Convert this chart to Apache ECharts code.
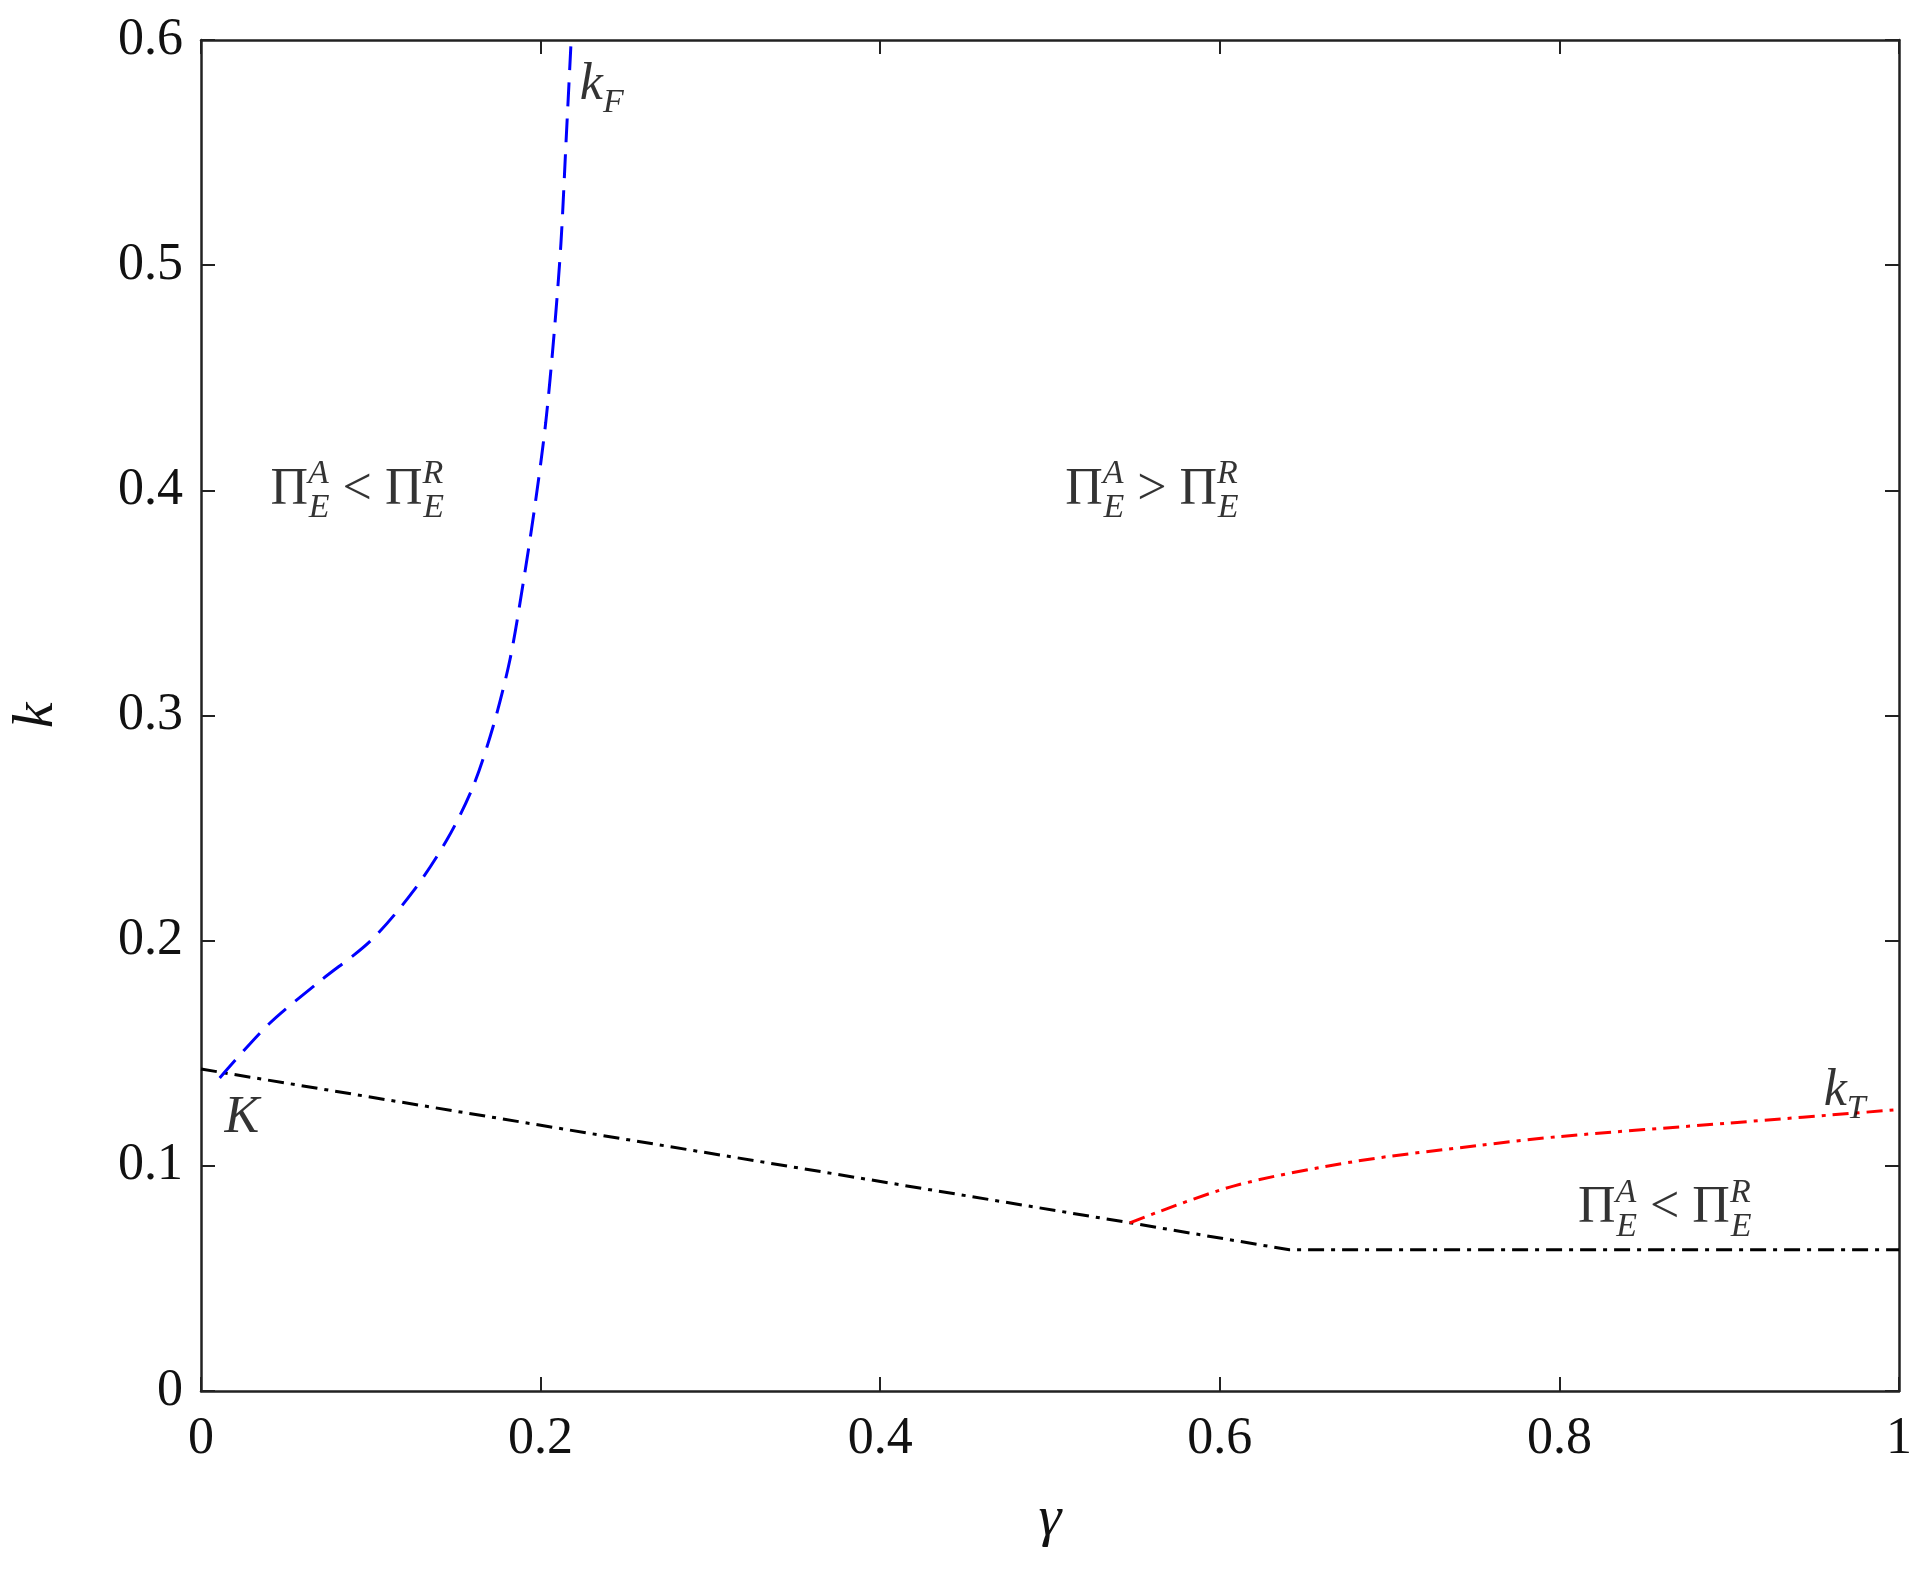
<!DOCTYPE html>
<html>
<head>
<meta charset="utf-8">
<script src="https://cdn.jsdelivr.net/npm/echarts@6/dist/echarts.min.js"></script>
<style>
  html, body { margin: 0; padding: 0; background: #fff; }
  #chart { width: 1927px; height: 1588px; }
</style>
</head>
<body>
<div id="chart"></div>
<script>
// kF boundary (blue dashed)
const kF = [
  [0.011, 0.139], [0.04, 0.163], [0.07, 0.182], [0.1, 0.2], [0.125, 0.222],
  [0.145, 0.245], [0.16, 0.268], [0.172, 0.295], [0.182, 0.325], [0.19, 0.36],
  [0.197, 0.395], [0.203, 0.43], [0.208, 0.47], [0.212, 0.51], [0.215, 0.555],
  [0.218, 0.6]
];
// lower black boundary
const kLow = [[0, 0.143], [0.547, 0.0747], [0.641, 0.0627], [1, 0.0627]];
// kT boundary (red)
const kT = [
  [0.547, 0.0747], [0.608, 0.091], [0.680, 0.102], [0.752, 0.109], [0.8, 0.113],
  [0.9, 0.119], [1, 0.125]
];
const xTicks = [0, 0.2, 0.4, 0.6, 0.8, 1];
const yTicks = [0, 0.1, 0.2, 0.3, 0.4, 0.5, 0.6];

const FONT = '"Liberation Serif", "Times New Roman", serif';
const lessR = '{m|Π}{sup|A}{sub|E}{m| < Π}{sup|R}{sub|E}';
const moreR = '{m|Π}{sup|A}{sub|E}{m| > Π}{sup|R}{sub|E}';
const notes = [
  { value: [0.092, 0.4], text: lessR },
  { value: [0.56, 0.4], text: moreR },
  { value: [0.862, 0.081], text: lessR },
  { value: [0.236, 0.58], text: '{i|k}{isub|F}' },
  { value: [0.968, 0.133], text: '{i|k}{isub|T}' },
  { value: [0.024, 0.121], text: '{i|K}' }
];

const rich = {
  m: { fontFamily: FONT, fontSize: 52, color: '#000', lineHeight: 70, verticalAlign: 'middle' },
  sup: { fontFamily: FONT, fontStyle: 'italic', fontSize: 34, color: '#000', lineHeight: 70, verticalAlign: 'top', padding: [2, 0, 0, 0] },
  sub: { fontFamily: FONT, fontStyle: 'italic', fontSize: 34, color: '#000', lineHeight: 70, verticalAlign: 'bottom', padding: [0, 0, 0, -20] },
  i: { fontFamily: FONT, fontStyle: 'italic', fontSize: 52, color: '#000', lineHeight: 70, verticalAlign: 'middle' },
  isub: { fontFamily: FONT, fontStyle: 'italic', fontSize: 34, color: '#000', lineHeight: 70, verticalAlign: 'bottom' }
};

const axisLine = { show: true, onZero: false, lineStyle: { color: '#222', width: 2.5 } };
const tick = { show: true, inside: true, length: 14, lineStyle: { color: '#222', width: 2 } };
const tickLabel = { fontFamily: FONT, fontSize: 52, color: '#111' };

const chart = echarts.init(document.getElementById('chart'));
chart.setOption({
  backgroundColor: '#fff',
  animation: false,
  grid: { left: 181, right: 28, top: 40, bottom: 197 },
  xAxis: [
    {
      type: 'value', min: 0, max: 1, interval: 0.2,
      name: 'γ', nameLocation: 'middle', nameGap: 100,
      nameTextStyle: { fontFamily: FONT, fontStyle: 'italic', fontSize: 58, color: '#111' },
      axisLine, axisTick: tick, splitLine: { show: false },
      axisLabel: { ...tickLabel, margin: 22, formatter: v => xTicks.includes(v) ? String(v) : '' }
    },
    {
      type: 'value', position: 'top', min: 0, max: 1, interval: 0.2,
      axisLine, axisTick: tick, axisLabel: { show: false }, splitLine: { show: false }
    }
  ],
  yAxis: [
    {
      type: 'value', min: 0, max: 0.6, interval: 0.1,
      name: 'k', nameLocation: 'middle', nameGap: 135, nameRotate: 90,
      nameTextStyle: { fontFamily: FONT, fontStyle: 'italic', fontSize: 58, color: '#111' },
      axisLine, axisTick: tick, splitLine: { show: false },
      axisLabel: { ...tickLabel, margin: 18, formatter: v => yTicks.some(t => Math.abs(t - v) < 1e-9) ? String(+v.toFixed(1)) : '' }
    },
    {
      type: 'value', position: 'right', min: 0, max: 0.6, interval: 0.1,
      axisLine, axisTick: tick, axisLabel: { show: false }, splitLine: { show: false }
    }
  ],
  series: [
    {
      type: 'line', data: kLow, symbol: 'none', z: 2,
      lineStyle: { color: '#000', width: 3, type: [16, 7, 4, 7] }
    },
    {
      type: 'line', data: kT, symbol: 'none', smooth: 0.3, z: 3,
      lineStyle: { color: '#ff0000', width: 3, type: [16, 7, 4, 7] }
    },
    {
      type: 'line', data: kF, symbol: 'none', smooth: 0.3, z: 3,
      lineStyle: { color: '#0000ff', width: 3, type: [24, 12] }
    },
    {
      type: 'scatter', symbolSize: 0, z: 5, silent: true,
      data: notes.map(n => ({ value: n.value, label: { formatter: n.text } })),
      label: { show: true, position: 'inside', rich }
    }
  ]
});
</script>
</body>
</html>
